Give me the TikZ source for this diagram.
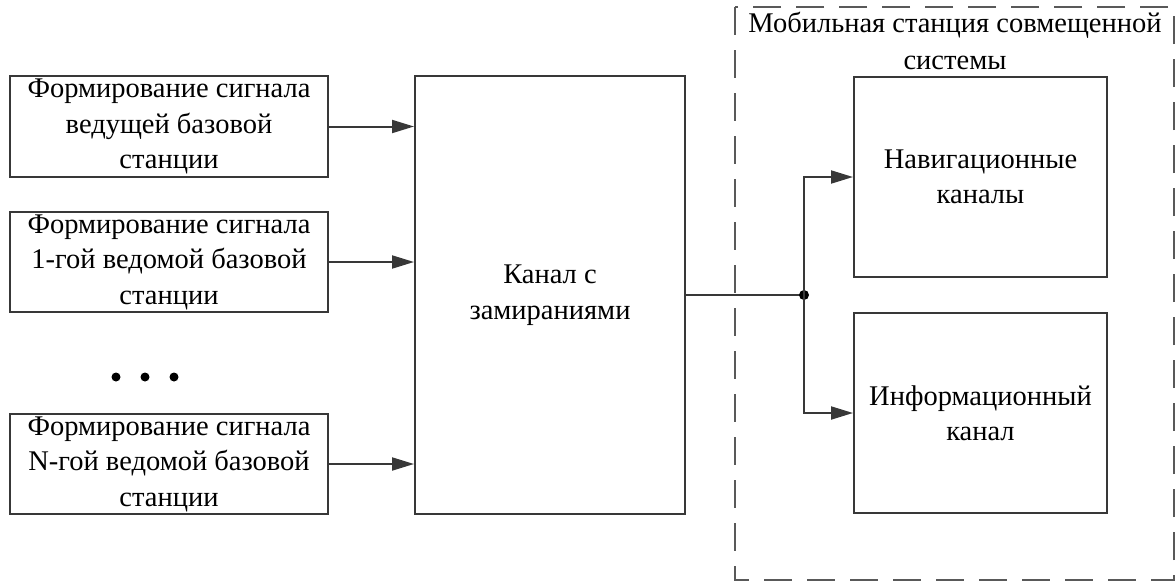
\documentclass[tikz,border=0pt]{standalone}
\usepackage{fontspec}
\setmainfont{Liberation Serif}
\usetikzlibrary{arrows.meta}
\begin{document}
\begin{tikzpicture}[x=1pt,y=-1pt,
  line/.style={draw=black!78,line width=2pt},
  blk/.style={line,rectangle,inner sep=0pt,align=center,
    font=\fontsize{28.5}{35.5}\selectfont},
  arr/.style={line,-{Triangle[length=22pt,width=13pt]}},
  lbl/.style={align=center,inner sep=0pt,font=\fontsize{28.5}{37}\selectfont}]
\useasboundingbox (0,0) rectangle (1176,584);
% source blocks
\node[blk,minimum width=318pt,minimum height=101pt] (s1) at (169,126.5)
  {Формирование сигнала\\ведущей базовой\\станции};
\node[blk,minimum width=318pt,minimum height=100pt] (s2) at (169,262)
  {Формирование сигнала\\1-гой ведомой базовой\\станции};
\node[blk,minimum width=318pt,minimum height=100pt] (s3) at (169,464)
  {Формирование сигнала\\N-гой ведомой базовой\\станции};
% ellipsis dots
\foreach \i/\xx in {d1/116,d2/145,d3/174}
  \fill[black] (\xx,377) circle (4.5pt) coordinate (\i);
% fading channel
\node[blk,minimum width=270pt,minimum height=438pt] (ch) at (550,295)
  {Канал с\\замираниями};
% mobile station frame
\draw[draw=black!65,line width=2.2pt,dash pattern=on 28pt off 15pt]
  (735,7) rectangle (1174,580);
\node[lbl] (ms) at (955,41) {Мобильная станция совмещенной\\системы};
% receiver blocks
\node[blk,minimum width=253pt,minimum height=200pt] (nav) at (980.5,177)
  {Навигационные\\каналы};
\node[blk,minimum width=253pt,minimum height=200pt] (inf) at (980.5,413)
  {Информационный\\канал};
% connectors
\draw[arr] (s1.east) -- (s1.east -| ch.west);
\draw[arr] (s2.east) -- (s2.east -| ch.west);
\draw[arr] (s3.east) -- (s3.east -| ch.west);
\coordinate (j) at (804,295);
\draw[line] (ch.east) -- (j);
\fill[black] (j) circle (5pt);
\draw[arr] (j) |- (nav.west);
\draw[arr] (j) |- (inf.west);
\end{tikzpicture}
\end{document}
